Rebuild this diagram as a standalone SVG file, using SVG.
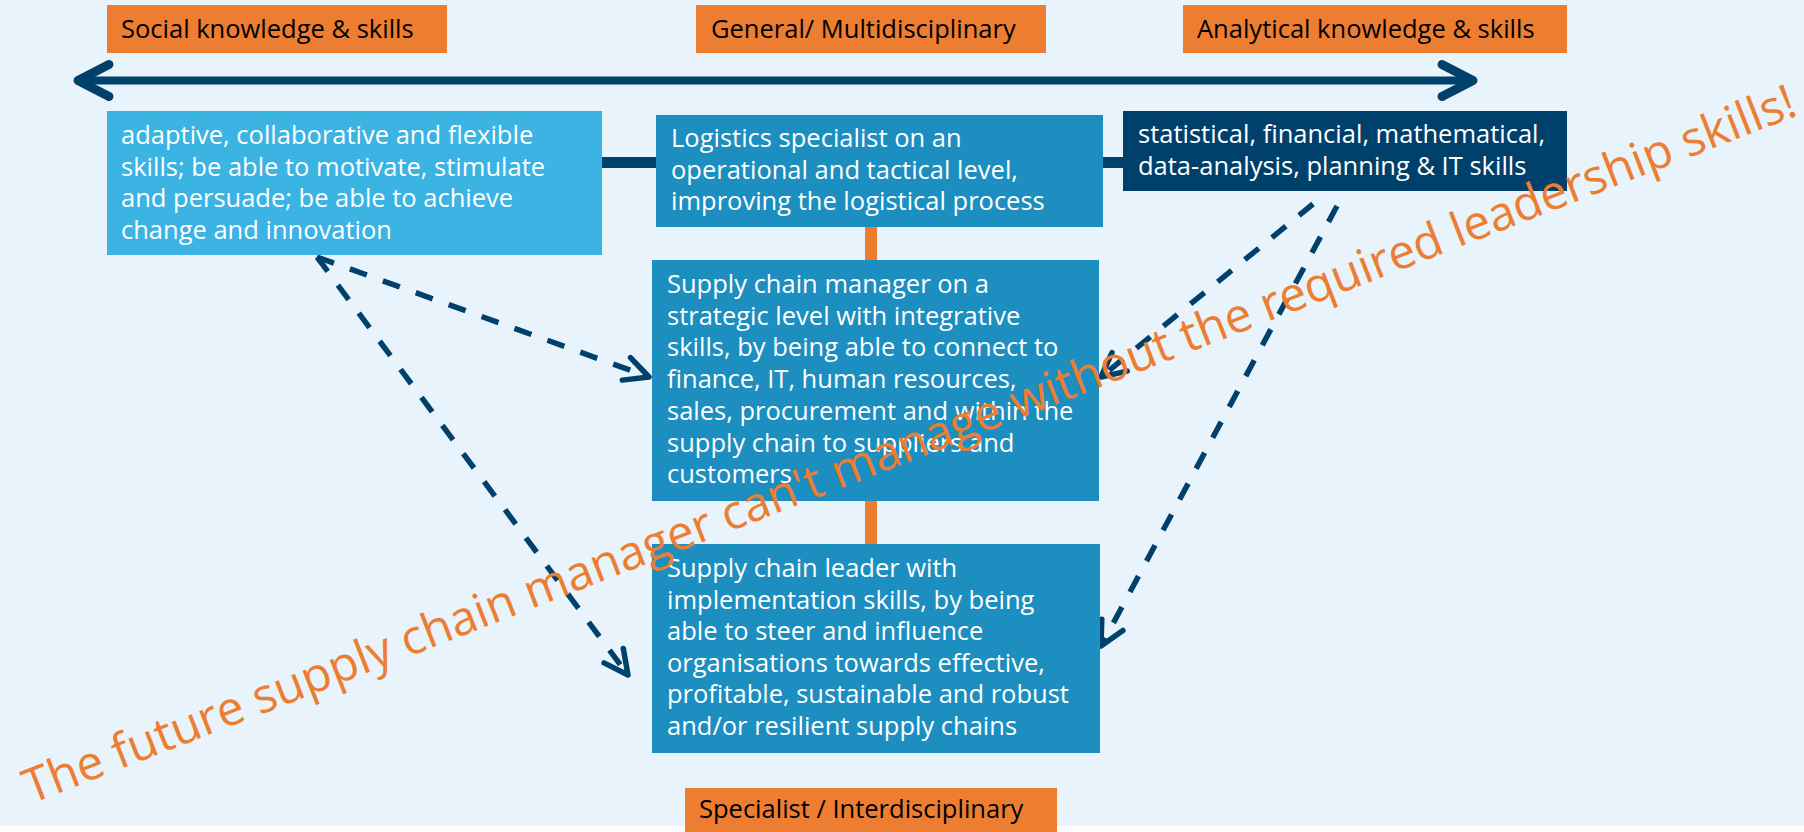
<svg xmlns="http://www.w3.org/2000/svg" width="1804" height="832" viewBox="0 0 1804 832">
  <style>
    text { font-family: "Open Sans", "Noto Sans", "Liberation Sans", sans-serif; font-size: 25.5px; }
    .hdr rect { fill: #ED7D31; }
    .hdr text { fill: #000000; }
    .box text { fill: #FFFFFF; }
    .light { fill: #3BB3E3; }
    .mid { fill: #1C8EC0; }
    .navy { fill: #00416B; }
    .dash { fill: none; stroke: #00416B; stroke-width: 5.5; stroke-dasharray: 18 17; }
    .big { fill: #ED7D31; font-size: 47.5px; }
  </style>
  <defs>
    <marker id="dhead" markerUnits="userSpaceOnUse" markerWidth="60" markerHeight="60" viewBox="-40 -30 60 60" refX="0" refY="0" orient="auto" overflow="visible">
      <path d="M -24 -12 L 0 0 L -24 12" fill="none" stroke="#00416B" stroke-width="5.5" stroke-dasharray="none" stroke-linecap="round" stroke-linejoin="round"/>
    </marker>
    <marker id="mhead" markerUnits="userSpaceOnUse" markerWidth="80" markerHeight="80" viewBox="-50 -40 80 80" refX="0" refY="0" orient="auto-start-reverse" overflow="visible">
      <path d="M -31 -16 L 0 0 L -31 16" fill="none" stroke="#00416B" stroke-width="9" stroke-linecap="round" stroke-linejoin="round"/>
    </marker>
  </defs>

  <rect x="0" y="0" width="1804" height="832" fill="#FFFFFF"/>
  <rect x="0" y="0" width="1804" height="826" fill="#E8F3FC"/>

  <g id="connectors">
    <line x1="602" y1="162.5" x2="1123" y2="162.5" stroke="#00416B" stroke-width="11"/>
    <line x1="871" y1="227" x2="871" y2="544" stroke="#ED7D31" stroke-width="12"/>
    <line x1="78" y1="80.5" x2="1473" y2="80.5" stroke="#00416B" stroke-width="8" marker-start="url(#mhead)" marker-end="url(#mhead)"/>
    <path class="dash" d="M317 257 L649 377" marker-end="url(#dhead)"/>
    <path class="dash" d="M317 257 L628 675" marker-end="url(#dhead)"/>
    <path class="dash" d="M1313 204 L1101 377" marker-end="url(#dhead)"/>
    <path class="dash" d="M1337 206 L1101 646" marker-end="url(#dhead)"/>
  </g>

  <g id="hdr-social" class="hdr">
    <rect x="107" y="5" width="340" height="48"/>
    <text x="121" y="38">Social knowledge &amp; skills</text>
  </g>
  <g id="hdr-general" class="hdr">
    <rect x="696" y="5" width="350" height="48"/>
    <text x="711" y="38">General/ Multidisciplinary</text>
  </g>
  <g id="hdr-analytical" class="hdr">
    <rect x="1183" y="5" width="384" height="48"/>
    <text x="1197" y="38">Analytical knowledge &amp; skills</text>
  </g>
  <g id="hdr-specialist" class="hdr">
    <rect x="685" y="788" width="372" height="44"/>
    <text x="699" y="818">Specialist / Interdisciplinary</text>
  </g>

  <g id="box-social" class="box">
    <rect class="light" x="107" y="111" width="495" height="144"/>
    <text>
      <tspan x="121" y="144">adaptive, collaborative and flexible</tspan>
      <tspan x="121" y="175.6">skills; be able to motivate, stimulate</tspan>
      <tspan x="121" y="207.2">and persuade; be able to achieve</tspan>
      <tspan x="121" y="238.8">change and innovation</tspan>
    </text>
  </g>
  <g id="box-logistics" class="box">
    <rect class="mid" x="656" y="115" width="447" height="112"/>
    <text>
      <tspan x="671" y="147">Logistics specialist on an</tspan>
      <tspan x="671" y="178.6">operational and tactical level,</tspan>
      <tspan x="671" y="210.2">improving the logistical process</tspan>
    </text>
  </g>
  <g id="box-analytical" class="box">
    <rect class="navy" x="1123" y="111" width="444" height="80"/>
    <text>
      <tspan x="1138" y="143">statistical, financial, mathematical,</tspan>
      <tspan x="1138" y="174.6">data-analysis, planning &amp; IT skills</tspan>
    </text>
  </g>
  <g id="box-manager" class="box">
    <rect class="mid" x="652" y="260" width="447" height="241"/>
    <text>
      <tspan x="667" y="293">Supply chain manager on a</tspan>
      <tspan x="667" y="324.7">strategic level with integrative</tspan>
      <tspan x="667" y="356.4">skills, by being able to connect to</tspan>
      <tspan x="667" y="388.1">finance, IT, human resources,</tspan>
      <tspan x="667" y="419.8">sales, procurement and within the</tspan>
      <tspan x="667" y="451.5">supply chain to suppliers and</tspan>
      <tspan x="667" y="483.2">customers</tspan>
    </text>
  </g>
  <g id="box-leader" class="box">
    <rect class="mid" x="652" y="544" width="448" height="209"/>
    <text>
      <tspan x="667" y="577">Supply chain leader with</tspan>
      <tspan x="667" y="608.6">implementation skills, by being</tspan>
      <tspan x="667" y="640.2">able to steer and influence</tspan>
      <tspan x="667" y="671.8">organisations towards effective,</tspan>
      <tspan x="667" y="703.4">profitable, sustainable and robust</tspan>
      <tspan x="667" y="735">and/or resilient supply chains</tspan>
    </text>
  </g>

  <g id="slogan">
    <text class="big" transform="translate(31 804) rotate(-21.3)" textLength="1898" lengthAdjust="spacingAndGlyphs">The future supply chain manager can't manage without the required leadership skills!</text>
  </g>
</svg>
